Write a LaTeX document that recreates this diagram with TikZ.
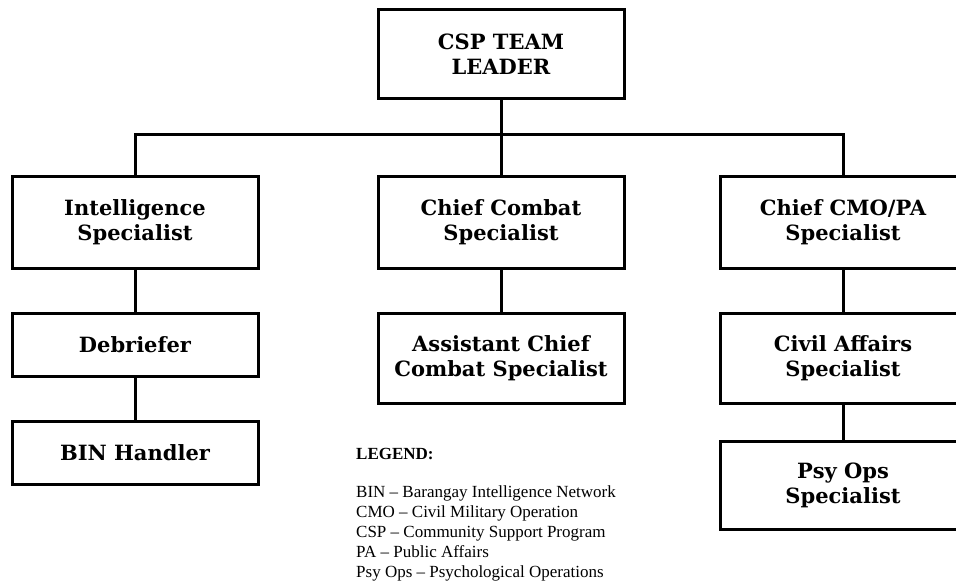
\documentclass[tikz,border=0pt]{standalone}
\usepackage{fontspec}
\setmainfont{Liberation Serif}
\newfontfamily\slabfont{DejaVu Serif}
\usepackage{tikz}
\usetikzlibrary{positioning}

\tikzset{
  post/.style={draw, line width=3pt, minimum width=246pt, align=center,
    inner sep=0pt, font=\slabfont\bfseries\fontsize{21}{25}\selectfont},
  link/.style={line width=3pt}
}

\begin{document}
\begin{tikzpicture}[x=1pt,y=-1pt]
  \useasboundingbox (0,0) rectangle (956,583);
  % top
  \node[post, minimum height=89pt] (leader) at (501,54.5) {CSP TEAM\\LEADER};
  % second row
  \node[post, minimum height=91pt] (intel)  at (135,222.5) {Intelligence\\Specialist};
  \node[post, minimum height=91pt] (combat) at (501,222.5) {Chief Combat\\Specialist};
  \node[post, minimum height=91pt] (cmo)    at (843,222.5) {Chief CMO/PA\\Specialist};
  % third row
  \node[post, minimum height=63pt] (debrief) at (135,344.5) {Debriefer};
  \node[post, minimum height=90pt] (asst)    at (501,358) {Assistant Chief\\Combat Specialist};
  \node[post, minimum height=90pt] (civil)   at (843,358) {Civil Affairs\\Specialist};
  % fourth row
  \node[post, minimum height=63pt] (bin)   at (135,452.5) {BIN Handler};
  \node[post, minimum height=88pt] (psyops) at (843,485) {Psy Ops\\Specialist};
  % legend
  \node[anchor=base west, inner sep=0pt, font=\bfseries\fontsize{17}{20}\selectfont]
    (legend) at (356,459) {LEGEND:};
  \node[anchor=north west, inner sep=0pt, align=left, font=\fontsize{17}{20}\selectfont]
    (terms) at (356,486) {BIN -- Barangay Intelligence Network\\
      CMO -- Civil Military Operation\\
      CSP -- Community Support Program\\
      PA -- Public Affairs\\
      Psy Ops -- Psychological Operations};

  \coordinate (bus) at (501,135);
  \draw[link] (leader) -- (bus);
  \draw[link] (intel.north) |- (bus) -| (cmo.north);
  \draw[link] (combat.north) -- (combat.north |- bus);
  \draw[link] (intel) -- (debrief);
  \draw[link] (debrief) -- (bin);
  \draw[link] (combat) -- (asst);
  \draw[link] (cmo) -- (civil);
  \draw[link] (civil) -- (psyops);
\end{tikzpicture}
\end{document}
